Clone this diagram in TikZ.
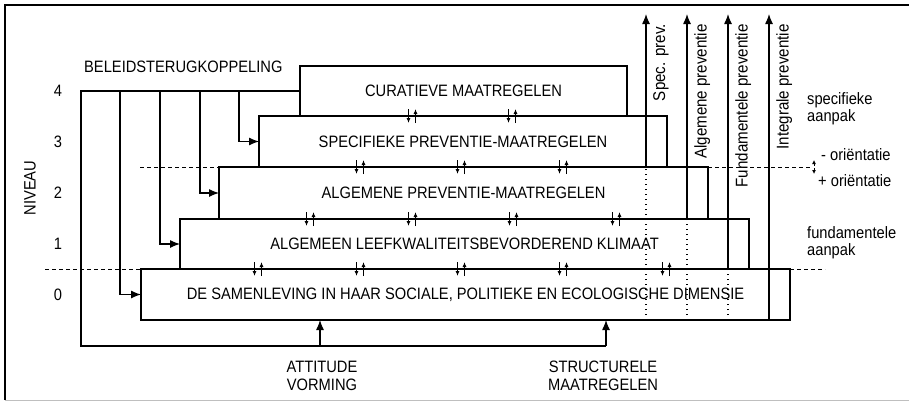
\documentclass[tikz,border=0pt]{standalone}
\usepackage{fontspec}
\setmainfont{Liberation Sans}[FakeStretch=0.89]
\usetikzlibrary{arrows.meta}

\tikzset{
  lvlbox/.style={draw, line width=1.4pt, inner sep=0pt, outer sep=0pt,
    font=\fontsize{16.5}{18}\selectfont},
  lbl/.style={inner sep=0pt, font=\fontsize{16.5}{17.5}\selectfont},
  vlbl/.style={inner sep=0pt, rotate=90, anchor=north east,
    font=\fontsize{17}{19}\selectfont},
  fbline/.style={line width=1.2pt},
  bigtip/.style={-{Latex[length=10pt,width=8pt]}},
  smalltip/.style={-{Latex[length=5pt,width=4pt]}, line width=0.9pt},
  lvlsep/.style={line width=1pt, dash pattern=on 4pt off 3pt},
  weak/.style={line width=1.1pt, dash pattern=on 1.5pt off 3.5pt},
}

\begin{document}
\begin{tikzpicture}[x=1pt,y=-1pt]
\useasboundingbox (0,0) rectangle (909,402);

% frame
\draw[line width=1.3pt] (5,400) -- (5,5) -- (909,5);
\draw[gray!50, line width=1pt] (5,400) -- (909,400);

% the five levels
\node[lvlbox, minimum width=327pt, minimum height=50pt] (box4) at (463.5,91) {CURATIEVE MAATREGELEN};
\node[lvlbox, minimum width=408pt, minimum height=51pt] (box3) at (463,141.5) {SPECIFIEKE PREVENTIE-MAATREGELEN};
\node[lvlbox, minimum width=489pt, minimum height=52pt] (box2) at (463.5,193) {ALGEMENE PREVENTIE-MAATREGELEN};
\node[lvlbox, minimum width=569pt, minimum height=50pt] (box1) at (464.5,244) {ALGEMEEN LEEFKWALITEITSBEVORDEREND KLIMAAT};
\node[lvlbox, minimum width=649pt, minimum height=51pt] (box0) at (465.5,294.5) {DE SAMENLEVING IN HAAR SOCIALE, POLITIEKE EN ECOLOGISCHE DIMENSIE};

% level numbers
\node[lbl, rotate=90] (niveau) at (30,188) {NIVEAU};
\foreach \n/\yy in {4/91, 3/141.5, 2/193, 1/244, 0/294.5}
  \node[lbl] (lv\n) at (58,\yy) {\n};

% dashed separations
\draw[lvlsep] (140,167) -- (box2.north west);
\draw[lvlsep] (box2.north east) -- (811,167);
\draw[lvlsep] (45,269) -- (box0.north west);
\draw[lvlsep] (box0.north east) -- (825,269);

% feedback loop
\node[lbl, anchor=west] (fbtitle) at (84,67) {BELEIDSTERUGKOPPELING};
\coordinate (fb) at (81,91);
\coordinate (att) at (320,346);
\coordinate (str) at (606,346);
\draw[fbline] (box4.west) -- (fb) |- (str);
\foreach \bx/\xx in {box3/239, box2/200, box1/160, box0/120}
  \draw[fbline, bigtip] (\xx,91) |- (\bx.west);
\draw[fbline, bigtip] (att) -- (att |- box0.south);
\draw[fbline, bigtip] (str) -- (str |- box0.south);
\node[lbl, align=center] (attlbl) at (322,376) {ATTITUDE\\VORMING};
\node[lbl, align=center] (strlbl) at (603,376) {STRUCTURELE\\MAATREGELEN};

% exchange between the levels
\foreach \yy/\xs in {116/{412,512}, 167/{360,461,563}, 219/{310,412,513,616}, 269/{258,360,461,563,666}}
  \foreach \xx in \xs {
    \draw[smalltip] (\xx-3.5,\yy-7) -- (\xx-3.5,\yy+7);
    \draw[smalltip] (\xx+3.5,\yy+7) -- (\xx+3.5,\yy-7);
  }

% prevention axes
\foreach \xx/\yy/\txt in {646/167/Spec. prev., 687/219/Algemene preventie, 728/269/Fundamentele preventie, 769/320/Integrale preventie} {
  \draw[weak] (\xx,320) -- (\xx,\yy);
  \draw[fbline, bigtip] (\xx,\yy) -- (\xx,14);
  \node[vlbl] at (\xx+7,24) {\txt};
}

% right side
\node[lbl, align=left, anchor=north west] (specif) at (807,92) {specifieke\\aanpak};
\node[lbl, align=left, anchor=north west] (fundam) at (807,226) {fundamentele\\aanpak};
\draw[-{Latex[length=4pt,width=4pt]}, line width=0.8pt] (814,166) -- (814,160);
\draw[-{Latex[length=4pt,width=4pt]}, line width=0.8pt] (814,168) -- (814,174);
\node[lbl, anchor=west] (minor) at (821,155) {- oriëntatie};
\node[lbl, anchor=west] (plusor) at (818,181) {+ oriëntatie};

\end{tikzpicture}
\end{document}
